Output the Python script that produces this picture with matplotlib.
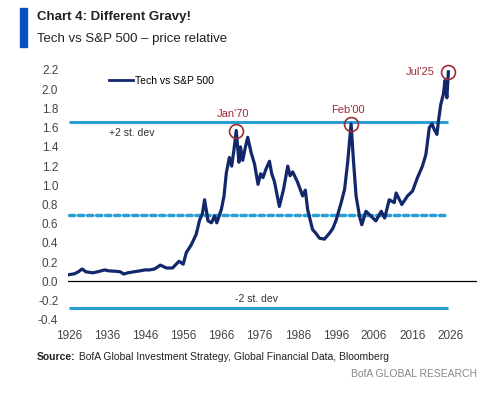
import matplotlib
matplotlib.use("Agg")
from matplotlib import pyplot as plt
from matplotlib.patches import Rectangle

plt.rcParams["font.family"] = ["Liberation Sans", "DejaVu Sans"]

# series (year, Tech vs S&P 500 price relative)
years = [1926.0, 1927.5, 1928.5, 1929.5, 1930.5, 1932.3, 1933.5, 1935.4, 1936.5,
         1938.6, 1939.5, 1940.4, 1941.5, 1943.0, 1944.6, 1946.0, 1947.2, 1948.5,
         1950.0, 1951.6, 1953.2, 1954.9, 1956.0, 1956.8, 1958.1, 1959.4, 1960.3,
         1961.0, 1961.6, 1962.5, 1963.4, 1964.2, 1964.8, 1966.0, 1966.7, 1967.3,
         1968.1, 1968.7, 1969.3, 1969.9, 1970.6, 1971.0, 1971.6, 1972.2, 1972.9,
         1973.8, 1974.7, 1975.6, 1976.3, 1976.9, 1977.7, 1978.6, 1979.2, 1979.9,
         1981.2, 1982.3, 1983.4, 1984.0, 1984.7, 1986.0, 1987.3, 1988.0, 1988.6,
         1989.9, 1990.8, 1991.7, 1993.0, 1994.3, 1995.2, 1996.1, 1997.4, 1998.3,
         1999.1, 2000.0, 2000.6, 2001.3, 2002.2, 2002.8, 2003.9, 2005.2, 2006.5,
         2007.9, 2008.8, 2010.0, 2011.3, 2011.8, 2013.3, 2014.8, 2016.1, 2017.4,
         2018.7, 2019.6, 2020.5, 2021.2, 2021.8, 2022.5, 2022.9, 2023.5, 2024.2,
         2024.6, 2025.1, 2025.5]
relative = [0.07, 0.08, 0.10, 0.13, 0.10, 0.09, 0.10, 0.12, 0.11,
            0.105, 0.10, 0.077, 0.09, 0.10, 0.11, 0.12, 0.12, 0.13,
            0.17, 0.14, 0.14, 0.21, 0.18, 0.30, 0.38, 0.49, 0.64,
            0.70, 0.85, 0.63, 0.61, 0.68, 0.61, 0.75, 0.89, 1.13,
            1.29, 1.20, 1.37, 1.57, 1.24, 1.40, 1.26, 1.38, 1.50,
            1.34, 1.22, 1.01, 1.12, 1.08, 1.17, 1.25, 1.12, 1.04,
            0.78, 0.96, 1.20, 1.10, 1.14, 1.03, 0.89, 0.95, 0.75,
            0.54, 0.50, 0.45, 0.44, 0.50, 0.55, 0.64, 0.82, 0.96,
            1.24, 1.64, 1.27, 0.89, 0.68, 0.59, 0.73, 0.68, 0.63,
            0.73, 0.66, 0.85, 0.82, 0.92, 0.80, 0.89, 0.94, 1.08,
            1.20, 1.32, 1.60, 1.64, 1.58, 1.53, 1.67, 1.84, 1.95,
            2.09, 1.91, 2.18]

mean_level = 0.69
upper_2sd = 1.66
lower_2sd = -0.28

peak_years = [1969.9, 2000.0, 2025.5]
peak_values = [1.57, 1.64, 2.18]
peak_labels = ["Jan'70", "Feb'00", "Jul'25"]

xticks = [1926, 1936, 1946, 1956, 1966, 1976, 1986, 1996, 2006, 2016, 2026]
yticks = [-0.4, -0.2, 0.0, 0.2, 0.4, 0.6, 0.8, 1.0, 1.2, 1.4, 1.6, 1.8, 2.0, 2.2]

navy = "#13286b"
lightblue = "#2a9fd3"
maroon = "#9c2b35"

fig = plt.figure(figsize=(5.0, 3.93), dpi=100, facecolor="white")
ax = fig.add_axes([0.136, 0.186, 0.818, 0.636])

x0, x1 = years[0], years[-1]
ax.plot([x0, x1], [upper_2sd, upper_2sd], color=lightblue, lw=2.2, solid_capstyle="butt")
ax.plot([x0, x1], [lower_2sd, lower_2sd], color=lightblue, lw=2.2, solid_capstyle="butt")
ax.plot([x0, x1], [mean_level, mean_level], color=lightblue, lw=2.5,
        dashes=(1.5, 1.1), dash_capstyle="round")
ax.axhline(0, color="black", lw=0.9)

ax.plot(years, relative, color=navy, lw=2.3, label="Tech vs S&P 500", zorder=3)

# circled peaks
ax.plot(peak_years, peak_values, "o", ms=10, mfc="none", mec=maroon, mew=1.2,
        zorder=4, clip_on=False)
offsets = [(-2, 12), (-2, 10), (-20, 0)]
for yr, val, lab, off in zip(peak_years, peak_values, peak_labels, offsets):
    ax.annotate(lab, (yr, val), xytext=off, textcoords="offset points",
                ha="center", va="center", fontsize=8, color=maroon)

ax.text(1936.5, upper_2sd - 0.06, "+2 st. dev", fontsize=7.5, color="#333333",
        va="top", ha="left")
ax.text(1969.5, lower_2sd + 0.05, "-2 st. dev", fontsize=7.5, color="#333333",
        va="bottom", ha="left")

ax.set_xlim(1925.8, 2033)
ax.set_ylim(-0.4, 2.2)
ax.set_xticks(xticks)
ax.set_yticks(yticks)
ax.set_yticklabels([f"{v:.1f}" for v in yticks])
ax.tick_params(length=0, labelsize=8.5, labelcolor="#444444")
ax.tick_params(axis="y", pad=7)
ax.tick_params(axis="x", pad=7)
for s in ax.spines.values():
    s.set_visible(False)

leg = ax.legend(loc="center left", bbox_to_anchor=(0.1, 0.956), frameon=False,
                handlelength=2.3, handletextpad=0.2, borderpad=0, borderaxespad=0,
                fontsize=7.5)
leg.get_lines()[0].set_linewidth(2.0)

# header
fig.patches.append(Rectangle((20 / 500, 1 - 47 / 393), 7 / 500, 39 / 393,
                             transform=fig.transFigure, color="#0a4fc0"))
fig.text(37 / 500, 1 - 17 / 393, "Chart 4: Different Gravy!", fontsize=9.5,
         fontweight="bold", color="#222222", va="center")
fig.text(37 / 500, 1 - 39 / 393, "Tech vs S&P 500 \u2013 price relative", fontsize=9.5,
         color="#222222", va="center")

# footer
src = fig.text(37 / 500, 1 - 357 / 393, "Source:", fontsize=7.5, fontweight="bold",
               color="#222222", va="center")
ax.annotate(" BofA Global Investment Strategy, Global Financial Data, Bloomberg",
            xy=(1, 0.5), xycoords=src, fontsize=7.5, color="#222222",
            va="center", ha="left", annotation_clip=False)
fig.text(477 / 500, 1 - 374 / 393, "BofA GLOBAL RESEARCH", fontsize=7.5,
         color="#888888", va="center", ha="right")

fig.savefig("out.png", dpi=100, facecolor="white")
